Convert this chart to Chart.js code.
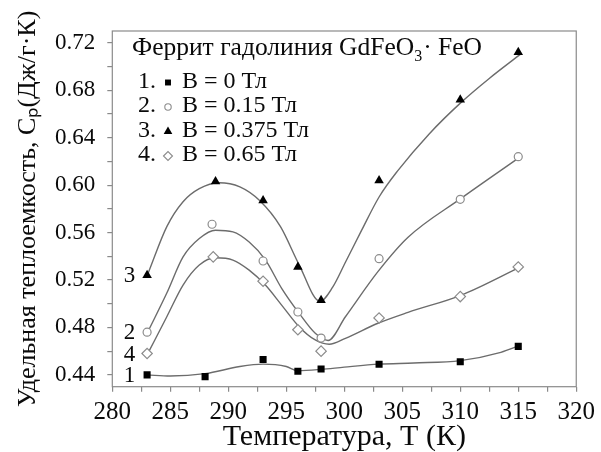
<!DOCTYPE html>
<html><head><meta charset="utf-8">
<script src="https://cdn.jsdelivr.net/npm/chart.js@4"></script>
<style>html,body{margin:0;padding:0;background:#fff}#wrap{width:601px;height:452px;position:relative}</style>
</head><body><div id="wrap"><canvas id="c"></canvas></div>
<script>
// ---------- data ----------
const seriesNumbers = ['1', '2', '3', '4'];
const seriesNames = ['B = 0 Тл', 'B = 0.15 Тл', 'B = 0.375 Тл', 'B = 0.65 Тл'];
const legendTitleMain = 'Феррит гадолиния GdFeO';
const legendTitleSub = '3';
const legendTitleEnd = '· FeO';
const xAxisTitle = 'Температура, Т (К)';
const yAxisTitle = 'Удельная теплоемкость, Cₚ(Дж/г·К)';

// measured points
const tempSquares   = [283, 288, 293, 296, 298, 303, 310, 315];
const cpSquares     = [0.440, 0.4385, 0.453, 0.443, 0.445, 0.449, 0.451, 0.464];
const tempCircles   = [283, 288.6, 293, 296, 298, 303, 310, 315];
const cpCircles     = [0.476, 0.567, 0.536, 0.493, 0.471, 0.538, 0.588, 0.624];
const tempTriangles = [283, 288.9, 293, 296, 298, 303, 310, 315];
const cpTriangles   = [0.524, 0.603, 0.587, 0.531, 0.503, 0.604, 0.672, 0.712];
const tempDiamonds  = [283, 288.7, 293, 296, 298, 303, 310, 315];
const cpDiamonds    = [0.458, 0.5395, 0.519, 0.478, 0.460, 0.488, 0.506, 0.531];

// smoothed curves
const curveT1  = [283, 285, 288, 291, 293, 295, 296, 298, 300, 303, 306, 310, 313.5, 315.2];
const curveCp1 = [0.440, 0.439, 0.441, 0.447, 0.449, 0.447, 0.4435, 0.4446, 0.4465, 0.449, 0.450, 0.452, 0.459, 0.465];
const curveT2  = [283.1, 284.7, 286.1, 287.5, 288.9, 290.4, 291.8, 293.2, 294.6, 296.1, 297.5, 298.6, 300.1, 302.9, 305.5, 310.1, 315.2];
const curveCp2 = [0.477, 0.509, 0.5395, 0.555, 0.562, 0.5606, 0.552, 0.537, 0.513, 0.492, 0.475, 0.469, 0.489, 0.527, 0.556, 0.589, 0.624];
const curveT3  = [283.1, 284.7, 286.1, 287.5, 289.2, 291, 292.7, 294.5, 296.1, 297.9, 299, 300.1, 301.5, 303, 304.6, 307.3, 310.1, 312.5, 315.2];
const curveCp3 = [0.526, 0.565, 0.586, 0.597, 0.602, 0.5985, 0.587, 0.565, 0.533, 0.502, 0.514, 0.535, 0.562, 0.590, 0.612, 0.643, 0.670, 0.690, 0.7105];
const curveT4  = [283.1, 284.7, 286.1, 287.5, 288.9, 290.4, 291.8, 293.2, 294.6, 296.1, 297.5, 298.7, 300.1, 302.9, 305.5, 310.1, 315.2];
const curveCp4 = [0.4587, 0.489, 0.5157, 0.5326, 0.5387, 0.5368, 0.5283, 0.5157, 0.4988, 0.4806, 0.4694, 0.4658, 0.4708, 0.4835, 0.4927, 0.5073, 0.5311];

// ticks
const xTickValues = [280, 282.5, 285, 287.5, 290, 292.5, 295, 297.5, 300, 302.5, 305, 307.5, 310, 312.5, 315, 317.5, 320];
const xTickLabels = ['280', '', '285', '', '290', '', '295', '', '300', '', '305', '', '310', '', '315', '', '320'];
const yTickValues = [0.44, 0.46, 0.48, 0.50, 0.52, 0.54, 0.56, 0.58, 0.60, 0.62, 0.64, 0.66, 0.68, 0.70, 0.72];
const yTickLabels = ['0.44', '', '0.48', '', '0.52', '', '0.56', '', '0.60', '', '0.64', '', '0.68', '', '0.72'];

// ---------- styling ----------
const FONT = '"Liberation Serif", "Times New Roman", serif';
const TEXT_COLOR = '#0a0a0a';
const CURVE_COLOR = '#6c6c6c';
const FRAME_COLOR = '#8a8a8a';
const HOLLOW_COLOR = '#8c8c8c';

const pts = (xs, ys) => xs.map((x, i) => ({x: x, y: ys[i]}));

const markerStyles = [
  {pointStyle: 'rect', radius: 5, bg: '#000', border: '#000', bw: 0},
  {pointStyle: 'circle', radius: 4, bg: '#fff', border: HOLLOW_COLOR, bw: 1.2},
  {pointStyle: 'triangle', radius: 5.5, bg: '#000', border: '#000', bw: 0},
  {pointStyle: 'rectRot', radius: 5.2, bg: '#fff', border: HOLLOW_COLOR, bw: 1.2}
];
const legendMarkers = [
  {pointStyle: 'rect', radius: 4.2, bg: '#000', border: '#000', bw: 0},
  {pointStyle: 'circle', radius: 3.2, bg: '#fff', border: HOLLOW_COLOR, bw: 1.1},
  {pointStyle: 'triangle', radius: 5, bg: '#000', border: '#000', bw: 0},
  {pointStyle: 'rectRot', radius: 4.5, bg: '#fff', border: HOLLOW_COLOR, bw: 1.1}
];

const curves = [pts(curveT1, curveCp1), pts(curveT2, curveCp2), pts(curveT3, curveCp3), pts(curveT4, curveCp4)];
const points = [pts(tempSquares, cpSquares), pts(tempCircles, cpCircles), pts(tempTriangles, cpTriangles), pts(tempDiamonds, cpDiamonds)];

const datasets = [];
curves.forEach((c, i) => datasets.push({
  label: 'curve ' + seriesNumbers[i], data: c, showLine: true, pointRadius: 0,
  borderColor: CURVE_COLOR, borderWidth: 1.4, cubicInterpolationMode: 'monotone', fill: false, order: 2
}));
points.forEach((p, i) => datasets.push({
  label: seriesNames[i], data: p, showLine: false,
  pointStyle: markerStyles[i].pointStyle, pointRadius: markerStyles[i].radius,
  pointBackgroundColor: markerStyles[i].bg, pointBorderColor: markerStyles[i].border,
  pointBorderWidth: markerStyles[i].bw, order: 1
}));

const decorPlugin = {
  id: 'decor',
  beforeDatasetsDraw(chart) {
    const {ctx, chartArea: a} = chart;
    ctx.save();
    ctx.strokeStyle = FRAME_COLOR; ctx.lineWidth = 1.2;
    ctx.strokeRect(a.left, a.top, a.right - a.left, a.bottom - a.top);
    ctx.restore();
  },
  afterDraw(chart) {
    const {ctx} = chart;
    const xs = chart.scales.x, ys = chart.scales.y;
    ctx.save();
    ctx.fillStyle = TEXT_COLOR;
    ctx.textBaseline = 'middle';
    // curve numbers beside the first point of each series
    ctx.font = '23px ' + FONT;
    ctx.textAlign = 'center';
    points.forEach((p, i) => {
      ctx.fillText(seriesNumbers[i], xs.getPixelForValue(p[0].x) - 17.5, ys.getPixelForValue(p[0].y) + 1);
    });
    // legend title
    ctx.textAlign = 'left';
    ctx.font = '25.5px ' + FONT;
    let tx = 132, ty = 48;
    ctx.fillText(legendTitleMain, tx, ty);
    tx += ctx.measureText(legendTitleMain).width;
    ctx.font = '16px ' + FONT;
    ctx.fillText(legendTitleSub, tx, ty + 9);
    tx += ctx.measureText(legendTitleSub).width + 1;
    ctx.font = '25.5px ' + FONT;
    ctx.fillText(legendTitleEnd, tx, ty);
    // legend entries
    ctx.font = '24px ' + FONT;
    seriesNames.forEach((name, i) => {
      const y = 81.5 + i * 24.5;
      ctx.fillStyle = TEXT_COLOR;
      ctx.fillText(seriesNumbers[i] + '.', 138, y);
      const m = legendMarkers[i];
      ctx.fillStyle = m.bg; ctx.strokeStyle = m.border; ctx.lineWidth = m.bw;
      Chart.helpers.drawPoint(ctx, {pointStyle: m.pointStyle, radius: m.radius, rotation: 0, borderWidth: m.bw}, 168, y + 1);
      ctx.fillStyle = TEXT_COLOR;
      ctx.fillText(name, 182, y);
    });
    ctx.restore();
  }
};

new Chart(document.getElementById('c'), {
  type: 'scatter',
  data: {datasets: datasets},
  plugins: [decorPlugin],
  options: {
    responsive: true, maintainAspectRatio: false, animation: false,
    layout: {padding: {top: 31, right: 22, bottom: 0, left: 0}},
    plugins: {legend: {display: false}, tooltip: {enabled: false}, title: {display: false}},
    scales: {
      x: {
        type: 'linear', min: 280, max: 320,
        afterBuildTicks: s => { s.ticks = xTickValues.map(v => ({value: v})); },
        afterFit: s => { s.height = 65.3; },
        border: {display: false},
        grid: {drawOnChartArea: false, drawTicks: true, tickLength: 5, color: FRAME_COLOR, lineWidth: 1.2},
        ticks: {autoSkip: false, maxRotation: 0, padding: 6, color: TEXT_COLOR,
          font: {family: FONT, size: 25}, callback: (v, i) => xTickLabels[i]},
        title: {display: true, text: xAxisTitle, color: TEXT_COLOR, padding: {top: 0, bottom: 0},
          font: {family: FONT, size: 30, lineHeight: 1}}
      },
      y: {
        type: 'linear', min: 0.43, max: 0.73,
        afterBuildTicks: s => { s.ticks = yTickValues.map(v => ({value: v})); },
        afterFit: s => { s.width = 112.3; },
        border: {display: false},
        grid: {drawOnChartArea: false, drawTicks: true, tickLength: 5, color: FRAME_COLOR, lineWidth: 1.2},
        ticks: {autoSkip: false, padding: 12, color: TEXT_COLOR,
          font: {family: FONT, size: 23}, callback: (v, i) => yTickLabels[i]},
        title: {display: true, text: yAxisTitle, color: TEXT_COLOR, padding: {top: 15, bottom: 0},
          font: {family: FONT, size: 26, lineHeight: 1}}
      }
    }
  }
});
</script>
</body></html>
